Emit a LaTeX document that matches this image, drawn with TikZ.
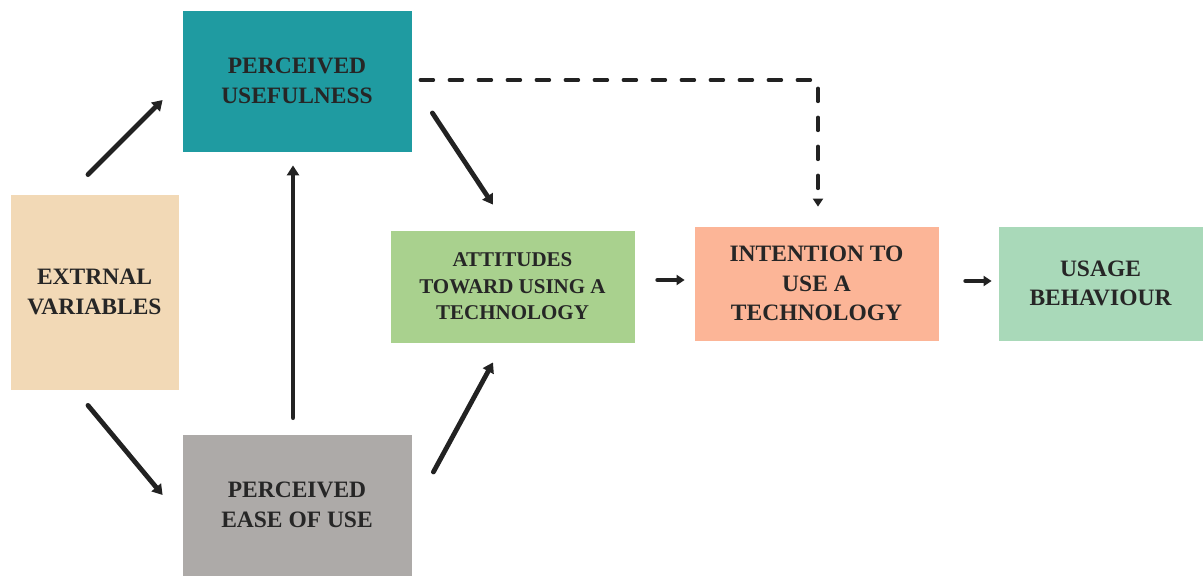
\documentclass[tikz,border=0pt]{standalone}
\usepackage{fontspec}
\setmainfont{Liberation Serif}
\usetikzlibrary{arrows.meta,calc}
\definecolor{puteal}{HTML}{1F9BA1}
\definecolor{extsand}{HTML}{F2D9B6}
\definecolor{eougray}{HTML}{ADAAA8}
\definecolor{attgreen}{HTML}{A9D18E}
\definecolor{intsalmon}{HTML}{FCB597}
\definecolor{usemint}{HTML}{A9D9B9}
\definecolor{ink}{HTML}{262626}
\definecolor{arrowink}{HTML}{222222}
\tikzset{
  box/.style={draw=white, line width=0.8pt, inner sep=0pt, align=center,
    text=ink, font=\bfseries\fontsize{23.5}{29.5}\selectfont},
  link/.style={draw=arrowink, line width=4.8pt, line cap=round,
    -{Triangle[length=10pt,width=12pt]}},
  shortlink/.style={link, line width=4.2pt, -{Triangle[length=8pt,width=10pt]}},
  dashlink/.style={draw=arrowink, line width=3.5pt, line cap=round,
    dash pattern=on 13pt off 16pt, -{Triangle[length=8pt,width=10pt]}}
}
\begin{document}
\begin{tikzpicture}[x=1pt,y=-1pt]
\useasboundingbox (0,0) rectangle (1203,576);

% constructs
\node[box, fill=puteal, minimum width=230pt, minimum height=142pt] (pu) at (297,81) {PERCEIVED\\USEFULNESS};
\node[box, fill=extsand, minimum width=169pt, minimum height=196pt] (ext) at (94.5,292) {EXTRNAL\\VARIABLES};
\node[box, fill=eougray, minimum width=230pt, minimum height=142pt] (peou) at (297,505) {PERCEIVED\\EASE OF USE};
\node[box, fill=attgreen, minimum width=245pt, minimum height=113pt,
  font=\bfseries\fontsize{21}{26.5}\selectfont] (att) at (512.5,286.5) {ATTITUDES\\TOWARD USING A\\TECHNOLOGY};
\node[box, fill=intsalmon, minimum width=245pt, minimum height=115pt] (int) at (816.5,283.5) {INTENTION TO\\USE A\\TECHNOLOGY};
\node[box, fill=usemint, minimum width=205pt, minimum height=115pt] (use) at (1100.5,283.5) {USAGE\\BEHAVIOUR};

% relations
\draw[link] ($(ext.north)+(-6.5,-19)$) -- ($(pu.west)+(-19,19)$);
\draw[link] ($(ext.south)+(-6.5,15)$) -- ($(peou.west)+(-19,-10)$);
\draw[link] ($(peou.north)+(-4,-16)$) -- ($(pu.south)+(-4,13)$);
\draw[link] ($(pu.east)+(20,32)$) -- ($(att.north)+(-19.5,-25)$);
\draw[link] ($(peou.east)+(21,-33)$) -- ($(att.south)+(-19.5,19)$);
\draw[shortlink] ($(att.east)+(22,-6.5)$) -- ($(int.west)+(-9,-3.5)$);
\draw[shortlink] ($(int.east)+(26,-2.5)$) -- ($(use.west)+(-6,-2.5)$);

% direct path from usefulness to intention
\draw[dashlink] ($(pu.east)+(8,-1)$) -| ($(int.north)+(1.5,-19)$);
\end{tikzpicture}
\end{document}
